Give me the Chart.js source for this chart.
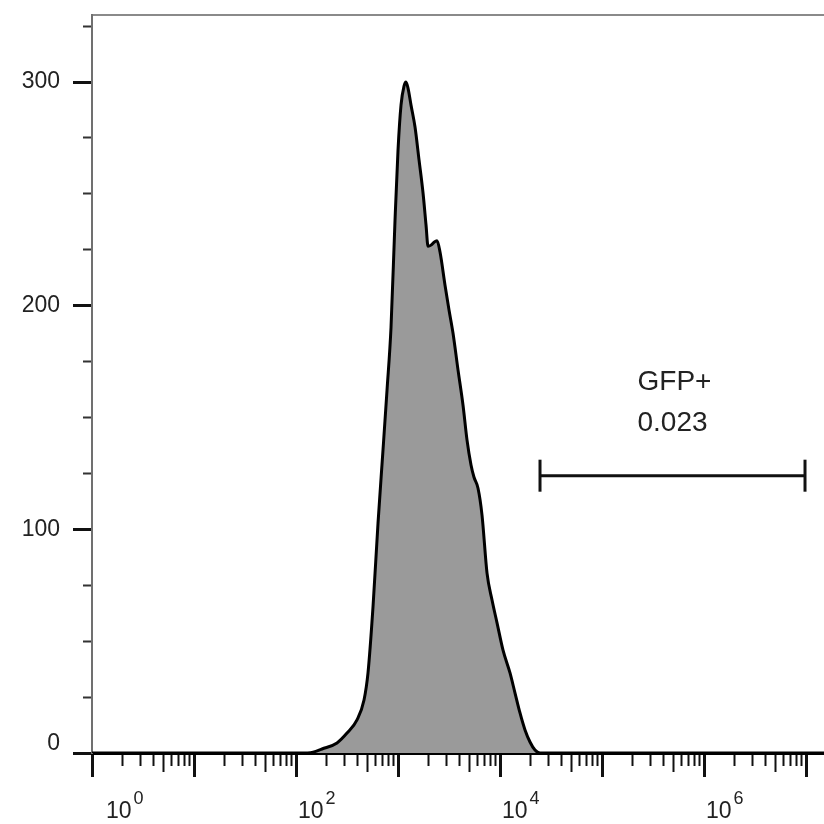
<!DOCTYPE html>
<html>
<head>
<meta charset="utf-8">
<script src="https://cdn.jsdelivr.net/npm/chart.js@4.4.1/dist/chart.umd.min.js"></script>
<style>
html,body{margin:0;padding:0;background:#fff;}
#wrap{width:824px;height:824px;position:relative;}
</style>
</head>
<body>
<div id="wrap"><canvas id="c"></canvas></div>
<script>
// ---- data ----
const histIntensity = [1, 109.4, 146.8, 179.8, 252.4, 316.2, 396.3, 464.2, 507.9, 568.6, 636.7, 712.7, 780.3, 854.0, 934.6, 1000, 1070, 1145, 1198, 1253, 1341, 1468, 1607, 1759, 1882, 1969, 2107, 2254, 2413, 2581, 2889, 3162, 3462, 3874, 4338, 4748, 5196, 5560, 6085, 6660, 7457, 8349, 9346, 10700, 12530, 14030, 15700, 17580, 19680, 22030, 24660, 15000000];
const histCounts = [0, 0, 0.4, 1.8, 4.5, 8.9, 14.8, 23.7, 35.8, 65.3, 102.8, 135.5, 162.3, 190.4, 238.3, 269.6, 289.7, 298.2, 300.0, 297.3, 289.7, 279.9, 265.2, 250.4, 236.1, 226.6, 227.1, 228.4, 229.0, 224.0, 209.2, 198.1, 187.7, 171.3, 155.5, 139.9, 128.8, 123.3, 118.4, 106.4, 80.4, 68.4, 58.2, 46.0, 35.8, 26.8, 17.9, 10.3, 4.9, 1.3, 0, 0];

const gateName = "GFP+";
const gateValue = "0.023";
const gateRange = [24660, 9770000];
const gateLevel = 124;

const xDecadeExponents = [0, 1, 2, 3, 4, 5, 6, 7];
const xLabelExponents = [0, 2, 4, 6];
const xMinorMultipliers = [2, 3, 4, 5, 6, 7, 8, 9];
const yTickValues = [0, 25, 50, 75, 100, 125, 150, 175, 200, 225, 250, 275, 300, 325];
const yLabelValues = [0, 100, 200, 300];

const xMin = 1, xMax = 15000000, yMin = 0, yMax = 330;

// ---- helpers ----
const FONT = '"Liberation Sans", Arial, sans-serif';
function isDecade(v) {
  const l = Math.log10(v);
  return Math.abs(l - Math.round(l)) < 1e-9;
}
function xTickValues() {
  const out = [];
  xDecadeExponents.forEach(e => {
    const base = Math.pow(10, e);
    out.push(base);
    if (e < xDecadeExponents[xDecadeExponents.length - 1]) {
      xMinorMultipliers.forEach(m => out.push(m * base));
    }
  });
  return out.filter(v => v >= xMin && v <= xMax);
}
function mantissa(v) {
  const e = Math.floor(Math.log10(v) + 1e-9);
  return Math.round(v / Math.pow(10, e));
}

const overlayPlugin = {
  id: 'overlay',
  afterDraw(chart) {
    const ctx = chart.ctx, xs = chart.scales.x, ys = chart.scales.y, area = chart.chartArea;
    ctx.save();
    ctx.fillStyle = '#222';
    // decade labels 10^n
    ctx.textAlign = 'left';
    ctx.textBaseline = 'alphabetic';
    xLabelExponents.forEach(e => {
      const px = xs.getPixelForValue(Math.pow(10, e));
      const x0 = Math.max(px + 2, area.left + 14);
      const base = xs.top + 65;
      ctx.font = '23px ' + FONT;
      ctx.fillText('10', x0, base);
      const w = ctx.measureText('10').width;
      ctx.font = '18px ' + FONT;
      ctx.fillText(String(e), x0 + w + 2, base - 14);
    });
    // gate label
    const gx = xs.getPixelForValue(Math.sqrt(gateRange[0] * gateRange[1]));
    const gy = ys.getPixelForValue(gateLevel);
    ctx.textAlign = 'center';
    ctx.textBaseline = 'middle';
    ctx.font = '28px ' + FONT;
    ctx.fillText(gateName, gx + 2, gy - 93);
    ctx.fillText(gateValue, gx, gy - 52);
    ctx.restore();
  }
};

new Chart(document.getElementById('c'), {
  type: 'line',
  data: {
    datasets: [
      {
        label: 'histogram',
        data: histIntensity.map((x, i) => ({x: x, y: histCounts[i]})),
        borderColor: '#000',
        borderWidth: 3,
        backgroundColor: '#9a9a9a',
        fill: 'origin',
        pointRadius: 0,
        cubicInterpolationMode: 'monotone',
        xAxisID: 'x', yAxisID: 'y'
      },
      {
        label: 'gate',
        data: gateRange.map(x => ({x: x, y: gateLevel})),
        borderColor: '#111',
        borderWidth: 3,
        fill: false,
        pointStyle: 'line',
        pointRotation: 90,
        pointRadius: 16,
        pointBorderWidth: 3,
        pointBorderColor: '#111',
        xAxisID: 'x', yAxisID: 'y'
      }
    ]
  },
  options: {
    responsive: true,
    maintainAspectRatio: false,
    animation: false,
    events: [],
    layout: {padding: 0, autoPadding: false},
    plugins: {legend: {display: false}, tooltip: {enabled: false}},
    scales: {
      x: {
        type: 'logarithmic',
        position: 'bottom',
        min: xMin, max: xMax,
        afterBuildTicks: s => { s.ticks = xTickValues().map(v => ({value: v})); },
        afterFit: s => { s.height = 71; s.paddingLeft = 0; s.paddingRight = 0; },
        border: {display: true, color: '#000', width: 3},
        grid: {
          drawOnChartArea: false,
          drawTicks: true,
          tickLength: 24,
          tickWidth: c => (c.tick && isDecade(c.tick.value)) ? 3 : 2,
          tickColor: '#111',
          tickBorderDash: c => {
            if (!c.tick || isDecade(c.tick.value)) return [];
            return mantissa(c.tick.value) === 5 ? [17, 100] : [11, 100];
          }
        },
        ticks: {display: false, autoSkip: false}
      },
      x2: {
        type: 'logarithmic',
        position: 'top',
        min: xMin, max: xMax,
        afterFit: s => { s.height = 15; s.paddingLeft = 0; s.paddingRight = 0; },
        border: {display: true, color: '#8a8a8a', width: 2},
        grid: {drawOnChartArea: false, drawTicks: false},
        ticks: {display: false}
      },
      y: {
        type: 'linear',
        position: 'left',
        min: yMin, max: yMax,
        afterBuildTicks: s => { s.ticks = yTickValues.map(v => ({value: v})); },
        afterFit: s => { s.width = 92; s.paddingTop = 0; s.paddingBottom = 0; },
        border: {display: true, color: '#707070', width: 2},
        grid: {
          drawOnChartArea: false,
          drawTicks: true,
          tickLength: 19,
          tickWidth: c => (c.tick && yLabelValues.includes(c.tick.value)) ? 3 : 2,
          tickColor: c => (c.tick && yLabelValues.includes(c.tick.value)) ? '#111' : '#333',
          tickBorderDash: c => (c.tick && yLabelValues.includes(c.tick.value)) ? [] : [0, 10, 40, 0]
        },
        ticks: {
          autoSkip: false,
          padding: 13,
          color: '#222',
          font: {family: FONT, size: 23, lineHeight: 0.85},
          callback: v => yLabelValues.includes(v) ? (v === 0 ? ['0', ''] : String(v)) : ''
        }
      }
    }
  },
  plugins: [overlayPlugin]
});
</script>
</body>
</html>
